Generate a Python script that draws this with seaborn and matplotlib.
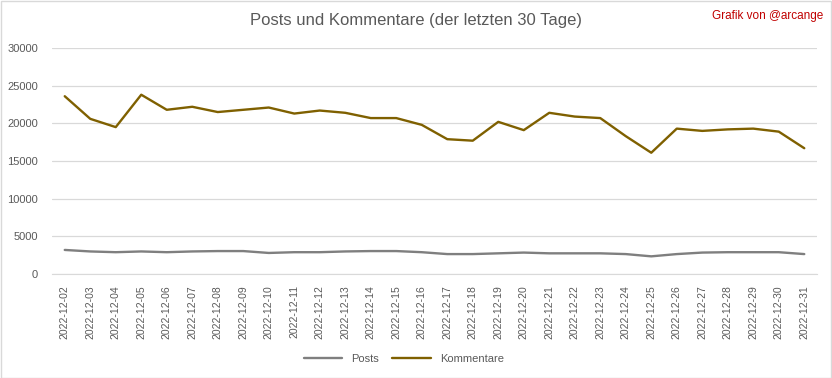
import seaborn as sns
import matplotlib.pyplot as plt
import pandas as pd

tage = ['2022-12-%02d' % d for d in range(2, 32)]
posts = [3200, 3000, 2900, 3000, 2900, 3000, 3050, 3050, 2800, 2900,
         2900, 3000, 3050, 3050, 2900, 2650, 2650, 2750, 2850, 2750,
         2750, 2750, 2650, 2350, 2650, 2850, 2900, 2900, 2900, 2650]
kommentare = [23600, 20600, 19500, 23800, 21800, 22200, 21500, 21800, 22100, 21300,
              21700, 21400, 20700, 20700, 19800, 17900, 17700, 20200, 19100, 21400,
              20900, 20700, 18300, 16100, 19300, 19000, 19200, 19300, 18900, 16700]

df = pd.DataFrame({'Tag': tage, 'Posts': posts, 'Kommentare': kommentare})
df_long = df.melt(id_vars='Tag', var_name='Serie', value_name='Anzahl')

sns.set_style('white')
plt.rcParams['font.family'] = ['Liberation Sans', 'DejaVu Sans']

fig = plt.figure(figsize=(8.32, 3.78), dpi=100)
ax = fig.add_axes([0.0625, 0.275, 0.9195, 0.598])
sns.lineplot(data=df_long, x='Tag', y='Anzahl', hue='Serie', sort=False,
             palette={'Posts': '#7f7f7f', 'Kommentare': '#7f6000'},
             linewidth=1.7, ax=ax)

ax.set_xlim(-0.5, len(tage) - 0.5)
ax.set_ylim(0, 30000)
ax.set_yticks(range(0, 30001, 5000))
ax.grid(axis='y', color='#d9d9d9', linewidth=0.9)
ax.grid(axis='x', visible=False)
for s in ['top', 'left', 'right']:
    ax.spines[s].set_visible(False)
ax.spines['bottom'].set_color('#d9d9d9')
ax.tick_params(axis='x', rotation=90, labelsize=7.5, colors='#595959', length=0, pad=8)
ax.tick_params(axis='y', labelsize=8, colors='#595959', length=0, pad=10)
ax.set_xlabel('')
ax.set_ylabel('')

ax.legend(loc='center', bbox_to_anchor=(0.46, -0.375), ncol=2, frameon=False,
          fontsize=8, labelcolor='#595959', handlelength=3.5, columnspacing=1.2,
          borderpad=0.2)

fig.text(0.5, 0.945, 'Posts und Kommentare (der letzten 30 Tage)', ha='center', va='center',
         fontsize=12, color='#595959')
fig.text(0.99, 0.957, 'Grafik von @arcange', ha='right', va='center',
         fontsize=8.5, color='#c00000')

fig.patches.append(plt.Rectangle((0.001, 0.001), 0.998, 0.997, transform=fig.transFigure,
                                 fill=False, edgecolor='#d9d9d9', linewidth=1))

plt.savefig('out.png', dpi=100)
